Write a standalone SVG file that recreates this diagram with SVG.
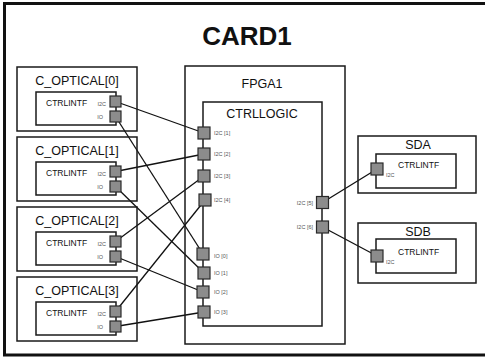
<svg xmlns="http://www.w3.org/2000/svg" width="485" height="357" viewBox="0 0 485 357">
<style>
text{font-family:"Liberation Sans",Arial,sans-serif;fill:#111}
.box{fill:none;stroke:#1a1a1a;stroke-width:1.5}
.port{fill:#8c8c8c;stroke:#2a2a2a;stroke-width:1.2}
.ttl{font-size:12.5px;text-anchor:middle}
.intf{font-size:8.5px}
.pl{font-size:5.5px;fill:#555}
.conn line{stroke:#111;stroke-width:1.3}
</style>
<rect x="0" y="0" width="485" height="357" fill="#fff"/>
<g id="card1">
<rect x="4.5" y="3.5" width="490" height="351.5" fill="none" stroke="#111" stroke-width="3"/>
<text x="247" y="45" font-size="26" font-weight="bold" text-anchor="middle">CARD1</text>
</g>
<g class="conn" id="connectors">
<line x1="115.5" y1="101.5" x2="204" y2="133"/>
<line x1="115.5" y1="116.5" x2="203" y2="254"/>
<line x1="115.5" y1="171.5" x2="204" y2="154"/>
<line x1="115.5" y1="186.5" x2="204" y2="273"/>
<line x1="115.5" y1="241.5" x2="204" y2="176"/>
<line x1="115.5" y1="256.5" x2="203" y2="292"/>
<line x1="115.5" y1="311.5" x2="205" y2="200"/>
<line x1="115.5" y1="326.5" x2="204" y2="312"/>
<line x1="322.5" y1="202.5" x2="377" y2="169"/>
<line x1="322.5" y1="227" x2="377" y2="256"/>
</g>
<g id="c_optical0">
<rect class="box" x="17" y="67" width="120" height="64"/>
<text class="ttl" x="77" y="85">C_OPTICAL[0]</text>
<rect class="box" x="36" y="92" width="80" height="33"/>
<text class="intf" x="46" y="106">CTRLINTF</text>
<text class="pl" x="106" y="106" text-anchor="end">I2C</text>
<text class="pl" x="103" y="119" text-anchor="end">IO</text>
<rect class="port" x="110" y="96" width="11" height="11"/>
<rect class="port" x="110" y="111" width="11" height="11"/>
</g>
<g id="c_optical1">
<rect class="box" x="17" y="137" width="120" height="64"/>
<text class="ttl" x="77" y="155">C_OPTICAL[1]</text>
<rect class="box" x="36" y="162" width="80" height="33"/>
<text class="intf" x="46" y="176">CTRLINTF</text>
<text class="pl" x="106" y="176" text-anchor="end">I2C</text>
<text class="pl" x="103" y="189" text-anchor="end">IO</text>
<rect class="port" x="110" y="166" width="11" height="11"/>
<rect class="port" x="110" y="181" width="11" height="11"/>
</g>
<g id="c_optical2">
<rect class="box" x="17" y="207" width="120" height="64"/>
<text class="ttl" x="77" y="225">C_OPTICAL[2]</text>
<rect class="box" x="36" y="232" width="80" height="33"/>
<text class="intf" x="46" y="246">CTRLINTF</text>
<text class="pl" x="106" y="246" text-anchor="end">I2C</text>
<text class="pl" x="103" y="259" text-anchor="end">IO</text>
<rect class="port" x="110" y="236" width="11" height="11"/>
<rect class="port" x="110" y="251" width="11" height="11"/>
</g>
<g id="c_optical3">
<rect class="box" x="17" y="277" width="120" height="64"/>
<text class="ttl" x="77" y="295">C_OPTICAL[3]</text>
<rect class="box" x="36" y="302" width="80" height="33"/>
<text class="intf" x="46" y="316">CTRLINTF</text>
<text class="pl" x="106" y="316" text-anchor="end">I2C</text>
<text class="pl" x="103" y="329" text-anchor="end">IO</text>
<rect class="port" x="110" y="306" width="11" height="11"/>
<rect class="port" x="110" y="321" width="11" height="11"/>
</g>
<g id="fpga1">
<rect class="box" x="185" y="66" width="160" height="278"/>
<text class="ttl" x="262" y="88">FPGA1</text>
</g>
<g id="ctrllogic">
<rect class="box" x="203" y="102" width="119" height="224"/>
<text x="262" y="118" font-size="12.5" text-anchor="middle">CTRLLOGIC</text>
<rect class="port" x="198" y="127" width="12" height="12"/>
<rect class="port" x="198" y="148" width="12" height="12"/>
<rect class="port" x="198" y="170" width="12" height="12"/>
<rect class="port" x="199" y="194" width="12" height="12"/>
<rect class="port" x="197" y="248" width="12" height="12"/>
<rect class="port" x="198" y="267" width="12" height="12"/>
<rect class="port" x="197" y="286" width="12" height="12"/>
<rect class="port" x="198" y="306" width="12" height="12"/>
<rect class="port" x="316.5" y="196.5" width="12" height="12"/>
<rect class="port" x="316.5" y="221" width="12" height="12"/>
<text class="pl" x="214" y="135">I2C [1]</text>
<text class="pl" x="214" y="156">I2C [2]</text>
<text class="pl" x="214" y="178">I2C [3]</text>
<text class="pl" x="214" y="202">I2C [4]</text>
<text class="pl" x="214" y="258">IO [0]</text>
<text class="pl" x="214" y="275">IO [1]</text>
<text class="pl" x="214" y="294">IO [2]</text>
<text class="pl" x="214" y="314">IO [3]</text>
<text class="pl" x="313" y="205" text-anchor="end">I2C [5]</text>
<text class="pl" x="313" y="229" text-anchor="end">I2C [6]</text>
</g>
<g id="sda">
<rect class="box" x="358" y="136" width="118" height="57"/>
<text class="ttl" x="418" y="149">SDA</text>
<rect class="box" x="376" y="154" width="80" height="34"/>
<text class="intf" x="398" y="168">CTRLINTF</text>
<text class="pl" x="386" y="177">I2C</text>
<rect class="port" x="371" y="163" width="12" height="12"/>
</g>
<g id="sdb">
<rect class="box" x="358" y="223" width="118" height="60"/>
<text class="ttl" x="418" y="236">SDB</text>
<rect class="box" x="376" y="239" width="80" height="34"/>
<text class="intf" x="398" y="255">CTRLINTF</text>
<text class="pl" x="386" y="264">I2C</text>
<rect class="port" x="371" y="250" width="12" height="12"/>
</g>
</svg>
